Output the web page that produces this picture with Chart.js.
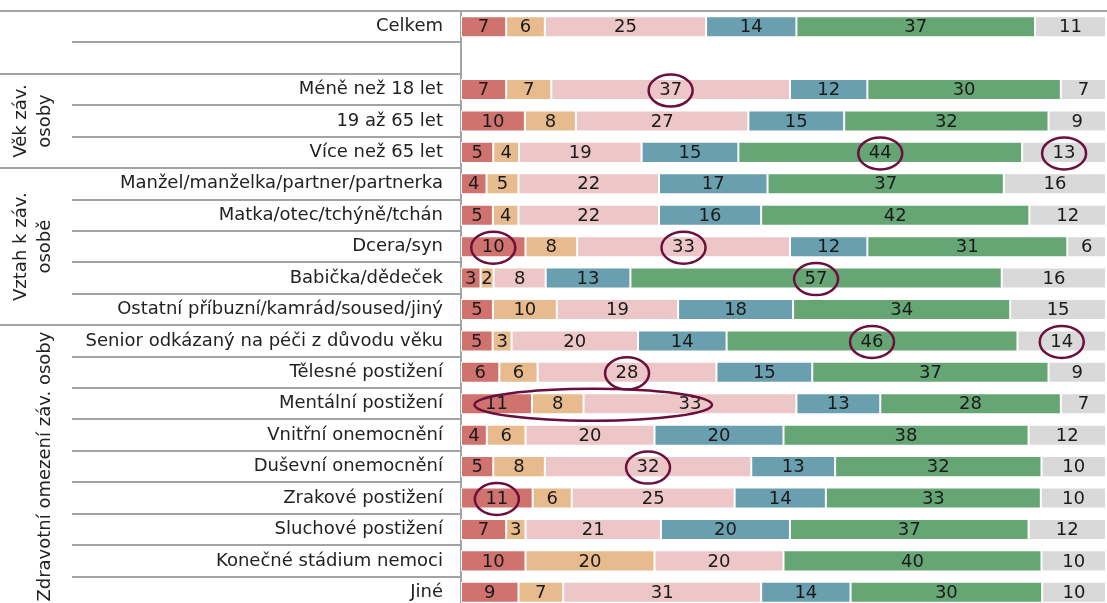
<!DOCTYPE html>
<html>
<head>
<meta charset="utf-8">
<script src="https://cdn.jsdelivr.net/npm/chart.js@4"></script>
<style>
  html, body { margin: 0; padding: 0; background: #fff; overflow: hidden; }
  #wrap { width: 1107px; height: 603px; overflow: hidden; }
</style>
</head>
<body>
<div id="wrap"><canvas id="myChart" width="1107" height="608"></canvas></div>
<script>
// radky grafu
var categories = ['Celkem', '', 'Méně než 18 let', '19 až 65 let', 'Více než 65 let',
    'Manžel/manželka/partner/partnerka', 'Matka/otec/tchýně/tchán', 'Dcera/syn', 'Babička/dědeček',
    'Ostatní příbuzní/kamrád/soused/jiný', 'Senior odkázaný na péči z důvodu věku', 'Tělesné postižení',
    'Mentální postižení', 'Vnitřní onemocnění', 'Duševní onemocnění', 'Zrakové postižení',
    'Sluchové postižení', 'Konečné stádium nemoci', 'Jiné'];

var redVals    = [7, null, 7, 10, 5, 4, 5, 10, 3, 5, 5, 6, 11, 4, 5, 11, 7, 10, 9];
var orangeVals = [6, null, 7, 8, 4, 5, 4, 8, 2, 10, 3, 6, 8, 6, 8, 6, 3, 20, 7];
var pinkVals   = [25, null, 37, 27, 19, 22, 22, 33, 8, 19, 20, 28, 33, 20, 32, 25, 21, 20, 31];
var tealVals   = [14, null, 12, 15, 15, 17, 16, 12, 13, 18, 14, 15, 13, 20, 13, 14, 20, 0, 14];
var greenVals  = [37, null, 30, 32, 44, 37, 42, 31, 57, 34, 46, 37, 28, 38, 32, 33, 37, 40, 30];
var grayVals   = [11, null, 7, 9, 13, 16, 12, 6, 16, 15, 14, 9, 7, 12, 10, 10, 12, 10, 10];

var seriesVals = [redVals, orangeVals, pinkVals, tealVals, greenVals, grayVals];
var seriesColors = ['#D0736F', '#E8BB8E', '#EDC7C7', '#699FAE', '#66A675', '#D9D9D9'];

// skupiny radku (svisle popisky vlevo)
var groups = [
    {label: ['Věk záv.', 'osoby'], from: 2, to: 4},
    {label: ['Vztah k záv.', 'osobě'], from: 5, to: 9},
    {label: ['Zdravotní omezení záv. osoby'], from: 10, to: 18}
];

// zakrouzkovane hodnoty: radek, od serie, do serie
var highlights = [
    {row: 2, from: 2, to: 2}, {row: 4, from: 4, to: 4}, {row: 4, from: 5, to: 5},
    {row: 7, from: 0, to: 0}, {row: 7, from: 2, to: 2}, {row: 8, from: 4, to: 4},
    {row: 10, from: 4, to: 4}, {row: 10, from: 5, to: 5}, {row: 11, from: 2, to: 2},
    {row: 12, from: 0, to: 2}, {row: 14, from: 2, to: 2}, {row: 15, from: 0, to: 0}
];

var FONT = 'DejaVu Sans, Verdana, sans-serif';
var LINE = '#a3a3a3';

// sirky segmentu prepocitane na 100 % v kazdem radku
var rowTotals = categories.map(function(c, i){
    var s = 0;
    seriesVals.forEach(function(v){ s += v[i] || 0; });
    return s;
});

var datasets = seriesVals.map(function(vals, k){
    return {
        label: 's' + k,
        data: vals.map(function(v, i){ return v === null ? null : v / rowTotals[i] * 100; }),
        raw: vals,
        backgroundColor: seriesColors[k],
        borderColor: '#ffffff',
        borderWidth: 1,
        borderSkipped: false,
        barPercentage: 0.67,
        categoryPercentage: 1
    };
});

var tablePlugin = {
    id: 'tablePlugin',
    beforeDraw: function(chart){
        var ctx = chart.ctx, y = chart.scales.y, area = chart.chartArea;
        var step = y.getPixelForValue(1) - y.getPixelForValue(0);
        var groupStarts = [2, 5, 10];
        ctx.save();
        ctx.strokeStyle = LINE;
        ctx.lineWidth = 2;
        // horni cara
        ctx.beginPath();
        ctx.moveTo(0, area.top); ctx.lineTo(chart.width, area.top);
        ctx.stroke();
        for (var i = 1; i < categories.length; i++){
            var yy = Math.round(y.getPixelForValue(i) - step / 2);
            var x0 = groupStarts.indexOf(i) >= 0 ? 0 : 72;
            ctx.beginPath();
            ctx.moveTo(x0, yy); ctx.lineTo(area.left, yy);
            ctx.stroke();
        }
        // osa
        ctx.beginPath();
        ctx.moveTo(area.left, area.top); ctx.lineTo(area.left, chart.height);
        ctx.stroke();

        // popisky skupin
        ctx.fillStyle = '#222';
        ctx.font = '18px ' + FONT;
        ctx.textAlign = 'center';
        ctx.textBaseline = 'middle';
        groups.forEach(function(g){
            var cy = (y.getPixelForValue(g.from) + y.getPixelForValue(g.to)) / 2;
            var n = g.label.length;
            g.label.forEach(function(t, j){
                var cx = n === 1 ? 45 : 21 + j * 24;
                ctx.save();
                ctx.translate(cx, cy);
                ctx.rotate(-Math.PI / 2);
                ctx.fillText(t, 0, 0);
                ctx.restore();
            });
        });
        ctx.restore();
    },
    afterDatasetsDraw: function(chart){
        var ctx = chart.ctx;
        ctx.save();
        ctx.font = '18px ' + FONT;
        ctx.fillStyle = '#1a1a1a';
        ctx.textAlign = 'center';
        ctx.textBaseline = 'middle';
        var centers = [];
        chart.data.datasets.forEach(function(ds, k){
            var meta = chart.getDatasetMeta(k);
            centers[k] = [];
            meta.data.forEach(function(el, i){
                var v = ds.raw[i];
                var cx = (el.x + el.base) / 2;
                centers[k][i] = {x: cx, y: el.y};
                if (v === null || v === 0) return;
                ctx.fillText(String(v), cx, el.y + 1);
            });
        });
        // krouzky
        ctx.strokeStyle = '#6B0F3E';
        ctx.lineWidth = 2.5;
        highlights.forEach(function(h){
            var a = centers[h.from][h.row], b = centers[h.to][h.row];
            var cx = (a.x + b.x) / 2;
            var rx = (b.x - a.x) / 2 + 22;
            ctx.beginPath();
            ctx.ellipse(cx, a.y + 1, rx, 16, 0, 0, Math.PI * 2);
            ctx.stroke();
        });
        ctx.restore();
    }
};

var myChart = new Chart(document.getElementById('myChart'), {
    type: 'bar',
    data: { labels: categories, datasets: datasets },
    options: {
        indexAxis: 'y',
        responsive: false,
        animation: false,
        layout: { padding: { top: 11, right: 1, bottom: 0, left: 0 } },
        plugins: { legend: { display: false }, tooltip: { enabled: false } },
        scales: {
            x: { stacked: true, display: false, min: 0, max: 100 },
            y: {
                stacked: true,
                grid: { display: false, drawTicks: false },
                border: { display: false },
                ticks: { font: { family: FONT, size: 18 }, color: '#222', padding: 18, autoSkip: false },
                afterFit: function(s){ s.width = 461; s.paddingTop = 0; s.paddingBottom = 0; }
            }
        }
    },
    plugins: [tablePlugin]
});
</script>
</body>
</html>
